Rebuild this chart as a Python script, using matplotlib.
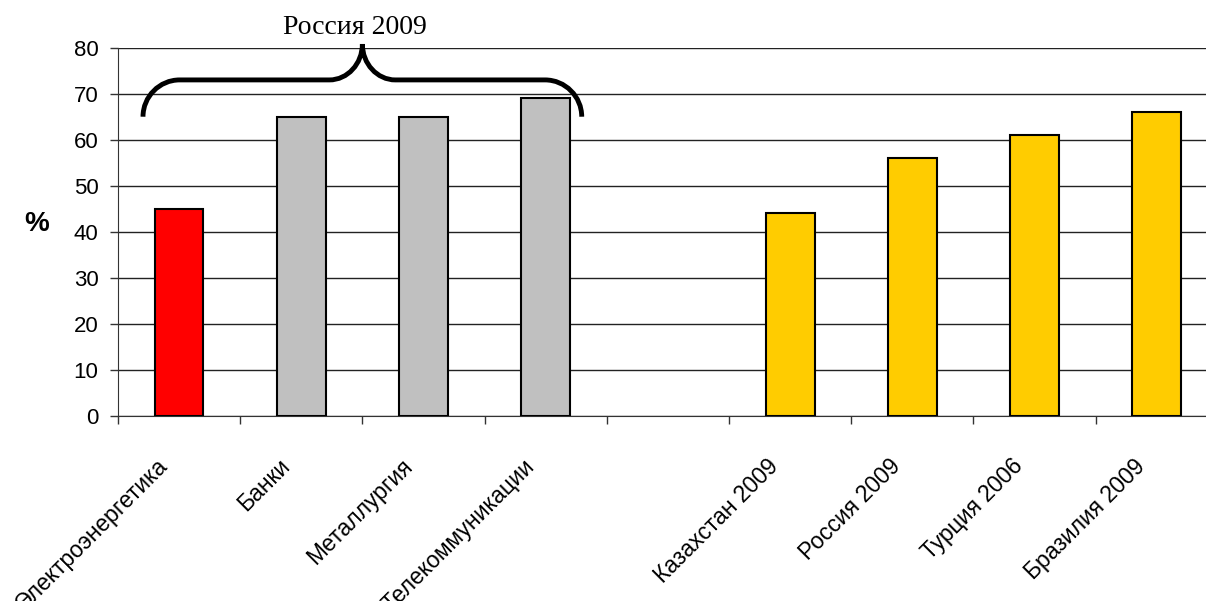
import numpy as np
import matplotlib.pyplot as plt
from matplotlib.path import Path
from matplotlib.patches import PathPatch
from matplotlib.transforms import ScaledTranslation

# Share of ... by sector (Russia 2009) and by country
categories = ['Электроэнергетика', 'Банки', 'Металлургия', 'Телекоммуникации', '',
              'Казахстан 2009', 'Россия 2009', 'Турция 2006', 'Бразилия 2009']
values = [45, 65, 65, 69, np.nan, 44, 56, 61, 66]
colors = ['#FF0000', '#C0C0C0', '#C0C0C0', '#C0C0C0', 'none',
          '#FFCC00', '#FFCC00', '#FFCC00', '#FFCC00']
yticks = list(range(0, 81, 10))
brace_label = 'Россия 2009'

plt.rcParams['font.family'] = ['Liberation Sans', 'DejaVu Sans']

fig = plt.figure(figsize=(12.06, 6.01), dpi=100)
ax = fig.add_axes([0.0978, 0.3083, 0.912, 0.6123])

x = np.arange(len(categories))
ax.bar(x, values, width=0.4, color=colors, edgecolor='black', linewidth=1.5, zorder=3)

ax.set_xlim(-0.5, len(categories) - 0.5)
ax.set_ylim(0, 80)
ax.set_yticks(yticks)
ax.yaxis.grid(True, color='#222222', linewidth=1, zorder=0)

# category boundaries carry the tick marks, labels sit in between
ax.set_xticks(np.arange(len(categories) + 1) - 0.5)
ax.set_xticklabels([])
ax.set_xticks(x, minor=True)
ax.set_xticklabels(categories, minor=True, rotation=45, ha='right', va='top',
                   rotation_mode='anchor', fontsize=16.5)
ax.tick_params(axis='x', which='minor', length=0, pad=28)
ax.tick_params(axis='x', which='major', length=6, width=1, color='#333333')
ax.tick_params(axis='y', length=6, width=1, color='#333333', labelsize=16, pad=8)

shift = ScaledTranslation(-23 / 100, 0, fig.dpi_scale_trans)
for lab in ax.get_xticklabels(minor=True):
    lab.set_transform(lab.get_transform() + shift)

for side in ['top', 'right']:
    ax.spines[side].set_visible(False)
ax.spines['left'].set_color('#333333')
ax.spines['bottom'].set_color('#333333')

ax.set_ylabel('%', rotation=0, fontsize=20, fontweight='bold', va='center')
ax.yaxis.set_label_coords(-0.074, 0.52)

# curly brace over the sector bars
xl, xr, xm = -0.295, 3.295, 1.5
y_end, y_mid, y_peak = 65, 73, 80.8
cw, cm = 0.3, 0.27
k = 0.55
verts = [
    (xl, y_end),
    (xl, y_end + k * (y_mid - y_end)), (xl + cw - k * cw, y_mid), (xl + cw, y_mid),
    (xm - cm, y_mid),
    (xm - cm + k * cm, y_mid), (xm, y_peak - k * (y_peak - y_mid)), (xm, y_peak),
    (xm, y_peak - k * (y_peak - y_mid)), (xm + cm - k * cm, y_mid), (xm + cm, y_mid),
    (xr - cw, y_mid),
    (xr - cw + k * cw, y_mid), (xr, y_end + k * (y_mid - y_end)), (xr, y_end),
]
codes = [Path.MOVETO,
         Path.CURVE4, Path.CURVE4, Path.CURVE4,
         Path.LINETO,
         Path.CURVE4, Path.CURVE4, Path.CURVE4,
         Path.CURVE4, Path.CURVE4, Path.CURVE4,
         Path.LINETO,
         Path.CURVE4, Path.CURVE4, Path.CURVE4]
brace = PathPatch(Path(verts, codes), facecolor='none', edgecolor='black',
                  linewidth=3.5, capstyle='butt', clip_on=False, zorder=4)
ax.add_patch(brace)
ax.text(xm - 0.06, 84.3, brace_label, ha='center', va='center', fontsize=20,
        family=['Liberation Serif', 'DejaVu Serif'], clip_on=False)

fig.savefig('out.png', dpi=100)
